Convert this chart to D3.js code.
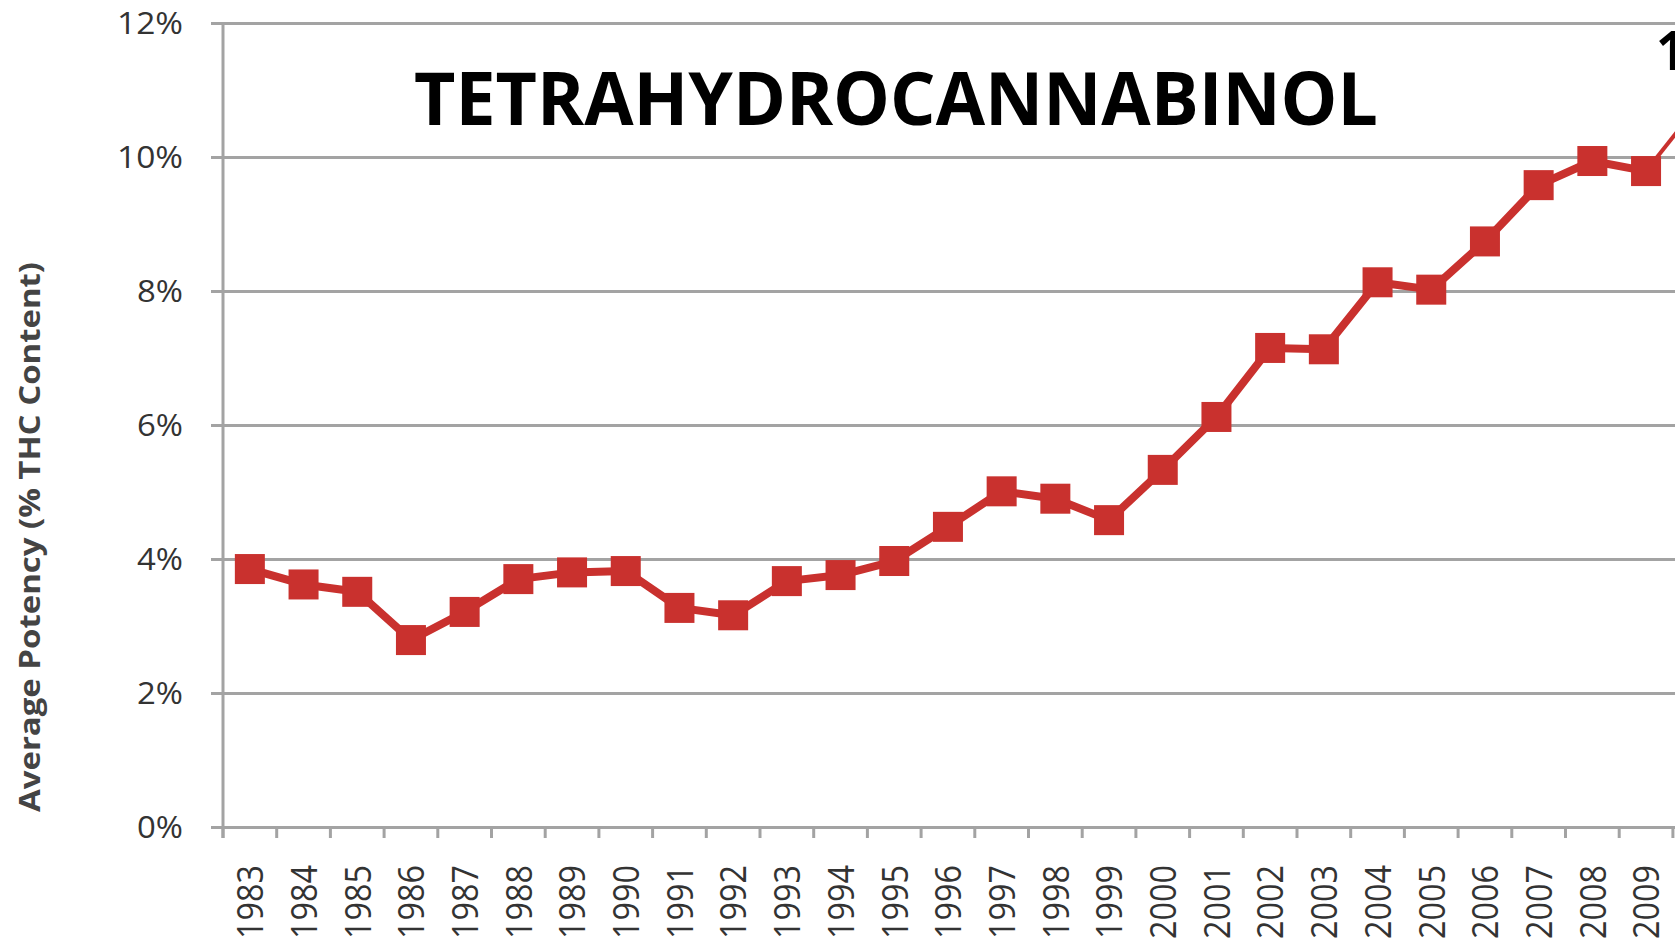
<!DOCTYPE html>
<html>
<head>
<meta charset="utf-8">
<script src="https://cdn.jsdelivr.net/npm/d3@7"></script>
<style>
  body { margin: 0; background: #fff; }
  svg { display: block; }
  text { font-family: 'Open Sans', 'Noto Sans', sans-serif; }
</style>
</head>
<body>
<div id="chart"></div>
<script>
// data
let years = [1983, 1984, 1985, 1986, 1987, 1988, 1989, 1990, 1991, 1992,
  1993, 1994, 1995, 1996, 1997, 1998, 1999, 2000, 2001, 2002,
  2003, 2004, 2005, 2006, 2007, 2008, 2009]
let potency = [3.85, 3.62, 3.51, 2.79, 3.21, 3.70, 3.80, 3.82, 3.27, 3.16,
  3.67, 3.76, 3.97, 4.48, 5.01, 4.90, 4.58, 5.33, 6.12, 7.15,
  7.13, 8.13, 8.02, 8.74, 9.58, 9.94, 9.79]
// the chart runs on past the right edge of the picture
let extraYear = 2010
let extraValue = 10.8
let extraLabel = '11%'
let yTicks = [0, 2, 4, 6, 8, 10, 12]

let chartTitle = 'TETRAHYDROCANNABINOL'
let yTitle = 'Average Potency (% THC Content)'

let margin = { top: 23, left: 223, right: 0, bottom: 117 }
let fullWidth = 1675
let fullHeight = 944
let height = fullHeight - margin.top - margin.bottom
let step = 53.7

let svg = d3.select('#chart')
  .append('svg')
  .attr('width', fullWidth)
  .attr('height', fullHeight)

let g = svg.append('g')
  .attr('transform', `translate(${margin.left},${margin.top})`)

let allYears = years.concat([extraYear])

let xPositionScale = d3.scaleBand()
  .domain(allYears)
  .range([0, step * allYears.length])

let yPositionScale = d3.scaleLinear()
  .domain([0, 12])
  .range([height, 0])

let gridColor = '#a3a3a3'
let red = '#c9312e'
let labelColor = '#333'

// gridlines + y axis
let yAxis = d3.axisLeft(yPositionScale)
  .tickValues(yTicks)
  .tickFormat(d => d + '%')
  .tickSize(-(fullWidth - margin.left))
  .tickPadding(40)

g.append('g')
  .attr('class', 'axis y-axis')
  .call(yAxis)
  .call(sel => sel.select('.domain').remove())
  .call(sel => sel.selectAll('.tick line')
    .attr('x1', -12)
    .attr('stroke', gridColor)
    .attr('stroke-width', 3))
  .call(sel => sel.selectAll('.tick text')
    .attr('font-size', 31)
    .attr('dy', '0.34em')
    .attr('textLength', d => d >= 10 ? 66 : 46)
    .attr('lengthAdjust', 'spacingAndGlyphs')
    .attr('fill', labelColor))

// vertical axis line
g.append('line')
  .attr('x1', 0).attr('x2', 0)
  .attr('y1', 0).attr('y2', height + 11)
  .attr('stroke', gridColor)
  .attr('stroke-width', 3)

// x axis, labels at centres (only the years inside the picture), ticks at band edges
let xAxis = d3.axisBottom(xPositionScale).tickValues(years).tickSize(0)

g.append('g')
  .attr('class', 'axis x-axis')
  .attr('transform', `translate(0,${height})`)
  .call(xAxis)
  .call(sel => sel.select('.domain').remove())
  .call(sel => sel.selectAll('.tick text')
    .attr('transform', 'rotate(-90)')
    .attr('x', -38)
    .attr('y', 0)
    .attr('dy', '0.36em')
    .attr('text-anchor', 'end')
    .attr('font-size', 37)
    .attr('textLength', 74)
    .attr('lengthAdjust', 'spacingAndGlyphs')
    .attr('fill', labelColor))

g.append('g')
  .selectAll('line')
  .data(allYears)
  .enter()
  .append('line')
  .attr('x1', d => xPositionScale(d))
  .attr('x2', d => xPositionScale(d))
  .attr('y1', height)
  .attr('y2', height + 11)
  .attr('stroke', gridColor)
  .attr('stroke-width', 3)

let cx = d => xPositionScale(d) + xPositionScale.bandwidth() / 2

let datapoints = years.map((d, i) => ({ year: d, value: potency[i] }))

let line = d3.line()
  .x(d => cx(d.year))
  .y(d => yPositionScale(d.value))

// thin continuation off the right edge
let last = datapoints[datapoints.length - 1]
g.append('path')
  .datum([last, { year: extraYear, value: extraValue }])
  .attr('d', line)
  .attr('fill', 'none')
  .attr('stroke', red)
  .attr('stroke-width', 4)

g.append('path')
  .datum(datapoints)
  .attr('d', line)
  .attr('fill', 'none')
  .attr('stroke', red)
  .attr('stroke-width', 8)
  .attr('stroke-linejoin', 'round')

g.selectAll('.marker')
  .data(datapoints)
  .enter()
  .append('rect')
  .attr('class', 'marker')
  .attr('x', d => cx(d.year) - 15)
  .attr('y', d => yPositionScale(d.value) - 15)
  .attr('width', 30)
  .attr('height', 30)
  .attr('fill', red)

// labels
svg.append('text')
  .text(chartTitle)
  .attr('x', 896)
  .attr('y', 125)
  .attr('text-anchor', 'middle')
  .attr('font-size', 74)
  .attr('font-weight', 'bold')
  .attr('textLength', 964)
  .attr('lengthAdjust', 'spacingAndGlyphs')
  .attr('fill', '#000')

svg.append('text')
  .text(extraLabel)
  .attr('x', 1656)
  .attr('y', 70)
  .attr('font-size', 53)
  .attr('font-weight', 'bold')
  .attr('fill', '#000')

svg.append('text')
  .text(yTitle)
  .attr('transform', 'translate(40,537) rotate(-90)')
  .attr('text-anchor', 'middle')
  .attr('font-size', 28)
  .attr('font-weight', 'bold')
  .attr('textLength', 550)
  .attr('lengthAdjust', 'spacingAndGlyphs')
  .attr('fill', '#444')
</script>
</body>
</html>
